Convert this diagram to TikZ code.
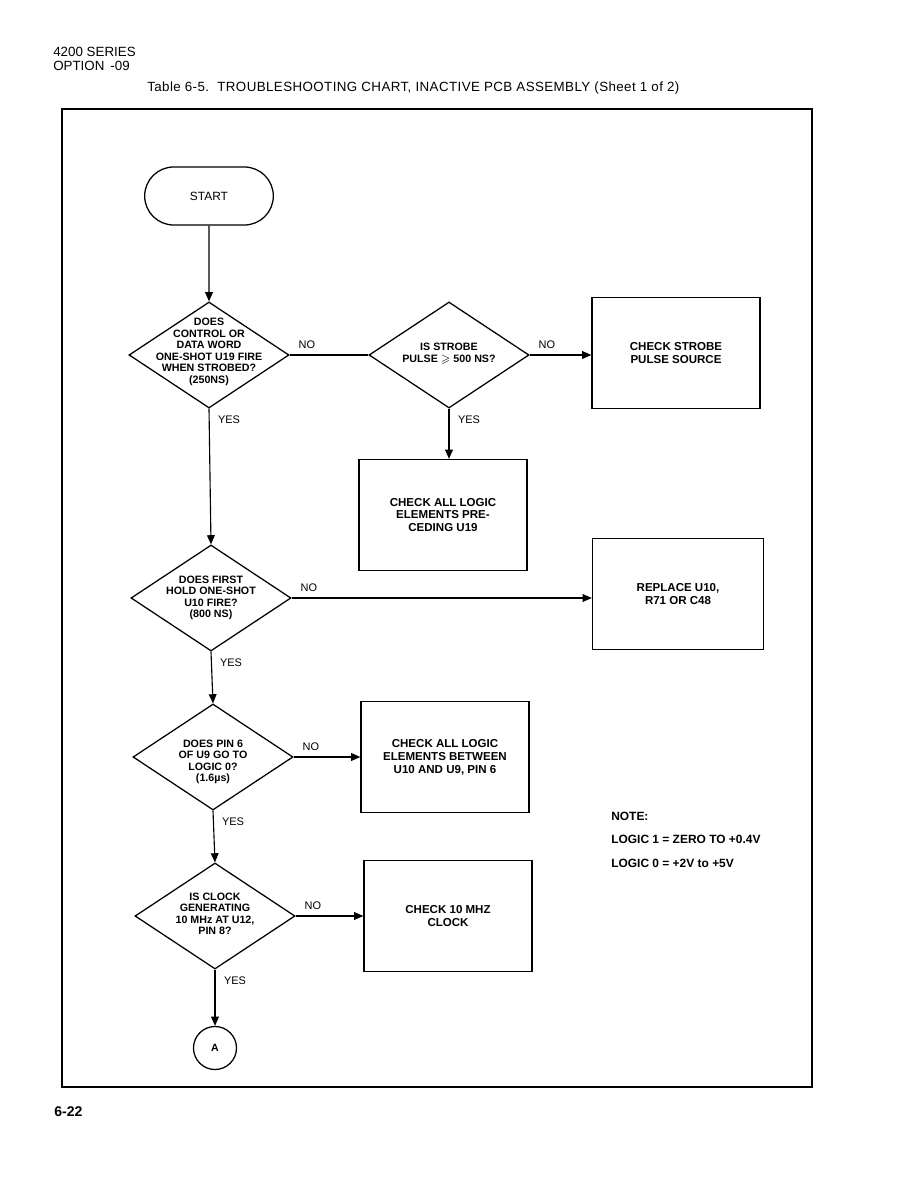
\documentclass[tikz,border=0pt]{standalone}
\usepackage{amssymb}
\usepackage{fontspec}
\setmainfont{Liberation Sans}
\usetikzlibrary{shapes.geometric,shapes.misc,arrows.meta}

\begin{document}
\begin{tikzpicture}[x=0.025cm, y=-0.025cm, >={Triangle[length=6.5pt,width=5.5pt]},
  decision/.style={diamond, draw, line width=0.9pt, minimum width=4cm, minimum height=2.65cm, inner sep=0pt},
  decisiontext/.style={align=center, font=\fontsize{7.6}{8.2}\selectfont\bfseries},
  action/.style={rectangle, draw, line width=0.9pt, minimum width=4.2cm, minimum height=2.775cm, align=center, font=\fontsize{8.2}{9.2}\selectfont\bfseries},
  terminal/.style={rounded rectangle, draw, line width=0.9pt, minimum width=3.45cm, minimum height=1.45cm, font=\fontsize{8.5}{10}\selectfont},
  connector/.style={circle, draw, line width=0.9pt, minimum size=1.075cm, inner sep=0pt, font=\fontsize{7.5}{9}\selectfont\bfseries},
  flow/.style={->, line width=0.8pt},
  answer/.style={font=\fontsize{7.8}{9}\selectfont, inner sep=1pt},
  no/.style={answer, pos=0, anchor=south west, xshift=5pt, yshift=3pt},
  yes/.style={answer, pos=0, anchor=north west, xshift=5pt, yshift=-4pt},
  notetext/.style={anchor=west, inner sep=0pt, font=\fontsize{8.5}{10}\selectfont\bfseries}]

  \useasboundingbox (0,0) rectangle (918,1188);

  % Page header
  \node[anchor=west, inner sep=0pt, font=\fontsize{9.5}{11}\selectfont] (series) at (53,52) {4200 SERIES};
  \node[anchor=west, inner sep=0pt, font=\fontsize{9.5}{11}\selectfont] (option) at (53,66) {OPTION \,-09};
  \node[anchor=west, inner sep=0pt, font=\fontsize{9.5}{11}\selectfont\addfontfeature{LetterSpace=3}] (title) at (147,88)
    {Table 6-5.\ \ TROUBLESHOOTING CHART, INACTIVE PCB ASSEMBLY (Sheet 1 of 2)};
  \node[anchor=west, inner sep=0pt, font=\fontsize{10}{12}\selectfont\bfseries] (pageno) at (54,1112) {6-22};

  % Frame
  \draw[line width=1.3pt] (62,109) rectangle (812,1087);

  % Main column
  \node[terminal] (start) at (209,196) {START};
  \node[decision] (d1) at (209,355) {};
  \node[decisiontext] (d1text) at (209,352) {DOES\\CONTROL OR\\DATA WORD\\ONE-SHOT U19 FIRE\\WHEN STROBED?\\(250NS)};
  \node[decision] (d2) at (211,598) {};
  \node[decisiontext] (d2text) at (211,598) {DOES FIRST\\HOLD ONE-SHOT\\U10 FIRE?\\(800 NS)};
  \node[decision] (d3) at (213,757) {};
  \node[decisiontext] (d3text) at (213,762) {DOES PIN 6\\OF U9 GO TO\\LOGIC 0?\\(1.6µs)};
  \node[decision] (d4) at (215,916) {};
  \node[decisiontext] (d4text) at (215,914) {IS CLOCK\\GENERATING\\10 MHz AT U12,\\PIN 8?};
  \node[connector] (contA) at (215,1048) {A};

  % Strobe branch
  \node[decision] (strobe) at (449,355) {};
  \node[decisiontext] (strobetext) at (449,354) {IS STROBE\\PULSE $\geqslant$ 500 NS?};
  \node[action] (srcbox) at (676,353) {CHECK STROBE\\PULSE SOURCE};
  \node[action] (precbox) at (443,515) {CHECK ALL LOGIC\\ELEMENTS PRE-\\CEDING U19};

  % Action boxes
  \node[action, minimum width=4.275cm] (replbox) at (678,594) {REPLACE U10,\\R71 OR C48};
  \node[action] (betwbox) at (445,757) {CHECK ALL LOGIC\\ELEMENTS BETWEEN\\U10 AND U9, PIN 6};
  \node[action] (clkbox) at (448,916) {CHECK 10 MHZ\\CLOCK};

  % Note
  \node[notetext] (note) at (611,816) {NOTE:};
  \node[notetext] (logicone) at (611,839) {LOGIC 1 = ZERO TO +0.4V};
  \node[notetext] (logiczero) at (611,863) {LOGIC 0 = +2V to +5V};

  % Connectors
  \draw[flow] (start) -- (d1);
  \draw[line width=0.8pt] (d1.east) -- node[no] {NO} (strobe.west);
  \draw[flow] (strobe.east) -- node[no] {NO} (strobe.east -| srcbox.west);
  \draw[flow] (strobe.south) -- node[yes] {YES} (strobe.south |- precbox.north);
  \draw[flow] (d1.south) -- node[yes] {YES} (d2.north);
  \draw[flow] (d2.east) -- node[no] {NO} (d2.east -| replbox.west);
  \draw[flow] (d2.south) -- node[yes] {YES} (d3.north);
  \draw[flow] (d3.east) -- node[no] {NO} (d3.east -| betwbox.west);
  \draw[flow] (d3.south) -- node[yes] {YES} (d4.north);
  \draw[flow] (d4.east) -- node[no] {NO} (d4.east -| clkbox.west);
  \draw[flow] (d4.south) -- node[yes] {YES} (contA);

\end{tikzpicture}
\end{document}
